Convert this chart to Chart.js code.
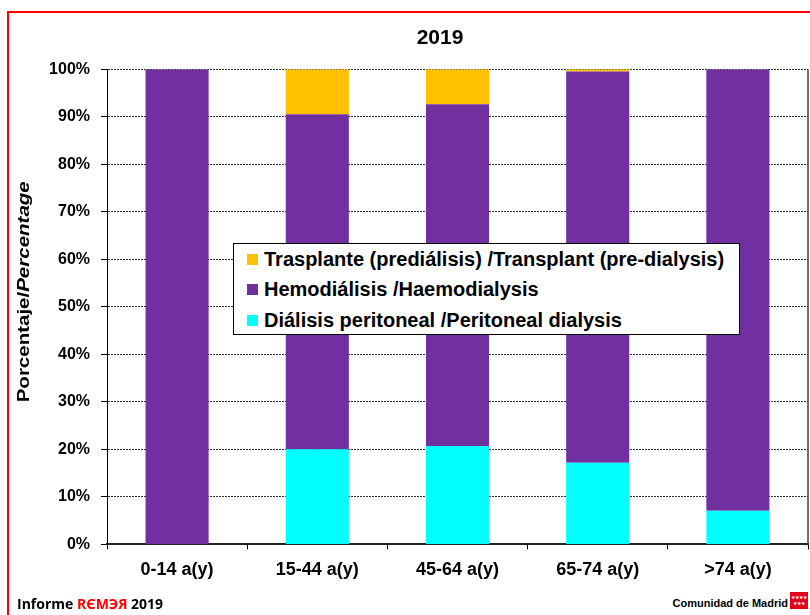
<!DOCTYPE html>
<html>
<head>
<meta charset="utf-8">
<script src="https://cdn.jsdelivr.net/npm/chart.js@4.4.1/dist/chart.umd.min.js"></script>
<style>
    body {
        margin: 0;
        width: 810px;
        height: 615px;
        overflow: hidden;
        position: relative;
        background: #fff;
        font-family: "Liberation Sans", Arial, sans-serif;
    }
    #frame {
        position: absolute;
        left: 7px;
        top: 11px;
        width: 830px;
        height: 630px;
        border: 2px solid #ff0000;
        box-sizing: border-box;
    }
    #wrap {
        position: absolute;
        left: 0;
        top: 0;
        width: 810px;
        height: 595px;
    }
    #legend {
        position: absolute;
        left: 233px;
        top: 243px;
        width: 507px;
        height: 92px;
        border: 1px solid #000;
        background: #fff;
        box-sizing: border-box;
    }
    .item {
        height: 30.5px;
        display: flex;
        align-items: center;
        padding-left: 13px;
        font-weight: bold;
        font-size: 20px;
        color: #000;
        white-space: nowrap;
    }
    .item .box {
        width: 11px;
        height: 11px;
        margin-right: 6px;
        flex: none;
    }
    #informe {
        position: absolute;
        left: 17px;
        top: 597px;
        font: 700 14px/14px "Open Sans", sans-serif;
        white-space: nowrap;
    }
    #informe span { color: #ff0000; }
    #madrid {
        position: absolute;
        right: 22px;
        top: 598px;
        font: 700 11px/11px "Liberation Sans", Arial, sans-serif;
        white-space: nowrap;
    }
    #flag {
        position: absolute;
        left: 790px;
        top: 592px;
        width: 18px;
        height: 17px;
        background: #e2001a;
        color: #fff;
        font-size: 5px;
        line-height: 6px;
        text-align: center;
        padding-top: 2px;
        box-sizing: border-box;
    }
</style>
</head>
<body>
<div id="frame"></div>
<div id="wrap"><canvas id="myChart"></canvas></div>
<div id="legend"></div>
<div id="informe">Informe <span>RЄMЭЯ</span> 2019</div>
<div id="madrid">Comunidad de Madrid</div>
<div id="flag">★★★★<br>★★★</div>
<script>
const ageGroups = ['0-14 a(y)', '15-44 a(y)', '45-64 a(y)', '65-74 a(y)', '>74 a(y)']
const peritoneal = [0, 20.0, 20.7, 17.2, 7.1]
const haemo = [100, 70.5, 71.9, 82.3, 92.9]
const transplant = [0, 9.5, 7.4, 0.5, 0]
const yTickLabels = ['0%', '10%', '20%', '30%', '40%', '50%', '60%', '70%', '80%', '90%', '100%']

const seriesNames = [
    'Diálisis peritoneal /Peritoneal dialysis',
    'Hemodiálisis /Haemodialysis',
    'Trasplante (prediálisis) /Transplant (pre-dialysis)'
]
const colorHex = ['#00FFFF', '#7030A0', '#FFC000']

// right edge of the plot + rotated two-style y title
const framePlugin = {
    id: 'frame',
    afterLayout(chart) {
        // y scale is squeezed so the title centres like the original; let its labels show
        chart.scales.y.left = 0
    },
    afterDraw(chart) {
        const ctx = chart.ctx
        const area = chart.chartArea
        ctx.save()
        ctx.strokeStyle = '#444'
        ctx.lineWidth = 1.5
        ctx.beginPath()
        ctx.moveTo(area.right, area.top)
        ctx.lineTo(area.right, area.bottom + 1)
        ctx.stroke()

        const part1 = 'Porcentaje/'
        const part2 = 'Percentage'
        const f1 = 'bold 16px "Liberation Sans", Arial'
        const f2 = 'italic bold 16px "Liberation Sans", Arial'
        ctx.font = f1
        const w1 = ctx.measureText(part1).width
        ctx.font = f2
        const w2 = ctx.measureText(part2).width
        const stretch = 221 / (w1 + w2)

        ctx.translate(area.left - 82, (area.top + area.bottom) / 2 - 15)
        ctx.rotate(-Math.PI / 2)
        ctx.scale(stretch, 1)
        ctx.fillStyle = '#000'
        ctx.textBaseline = 'middle'
        ctx.textAlign = 'left'
        ctx.font = f1
        ctx.fillText(part1, -(w1 + w2) / 2, 0)
        ctx.font = f2
        ctx.fillText(part2, -(w1 + w2) / 2 + w1, 0)
        ctx.restore()
    }
}

const ctx = document.getElementById('myChart').getContext('2d')

let myChart = new Chart(ctx, {
    type: 'bar',
    data: {
        labels: ageGroups,
        datasets: [
            { label: seriesNames[0], data: peritoneal, backgroundColor: colorHex[0] },
            { label: seriesNames[1], data: haemo, backgroundColor: colorHex[1] },
            { label: seriesNames[2], data: transplant, backgroundColor: colorHex[2] }
        ]
    },
    options: {
        responsive: true,
        maintainAspectRatio: false,
        animation: false,
        barPercentage: 0.45,
        categoryPercentage: 1,
        layout: {
            padding: { left: 72, right: 2, top: 0, bottom: 4 }
        },
        plugins: {
            legend: { display: false },
            tooltip: { enabled: false },
            title: {
                display: true,
                text: '2019',
                color: '#000',
                font: { family: '"Liberation Sans", Arial', size: 21, weight: 'bold' },
                padding: { top: 26, bottom: 18 }
            }
        },
        scales: {
            x: {
                stacked: true,
                grid: {
                    display: true,
                    drawOnChartArea: false,
                    offset: true,
                    tickLength: 5,
                    color: '#000'
                },
                border: { display: true, color: '#222', width: 2 },
                ticks: {
                    color: '#000',
                    padding: 10,
                    maxRotation: 0,
                    autoSkip: false,
                    font: { family: '"Liberation Sans", Arial', size: 18, weight: 'bold' }
                }
            },
            y: {
                stacked: true,
                min: 0,
                max: 100,
                afterFit(scale) {
                    scale.width = 35
                },
                grid: {
                    color: '#333',
                    lineWidth: 1,
                    tickLength: 6,
                    tickColor: '#000',
                    tickBorderDash: []
                },
                border: { display: true, color: '#000', width: 1, dash: [2, 1] },
                ticks: {
                    stepSize: 10,
                    color: '#000',
                    padding: 11,
                    font: { family: '"Liberation Sans", Arial', size: 16, weight: 'bold' },
                    callback: (value, i) => yTickLabels[i]
                }
            }
        }
    },
    plugins: [framePlugin]
})

// legend box inside the plot, top series first
const legendEl = document.querySelector('#legend')
myChart.data.datasets.slice().reverse().forEach(ds => {
    legendEl.innerHTML += `
        <div class="item"><span class="box" style="background:${ds.backgroundColor}"></span>${ds.label}</div>
    `
})
</script>
</body>
</html>
